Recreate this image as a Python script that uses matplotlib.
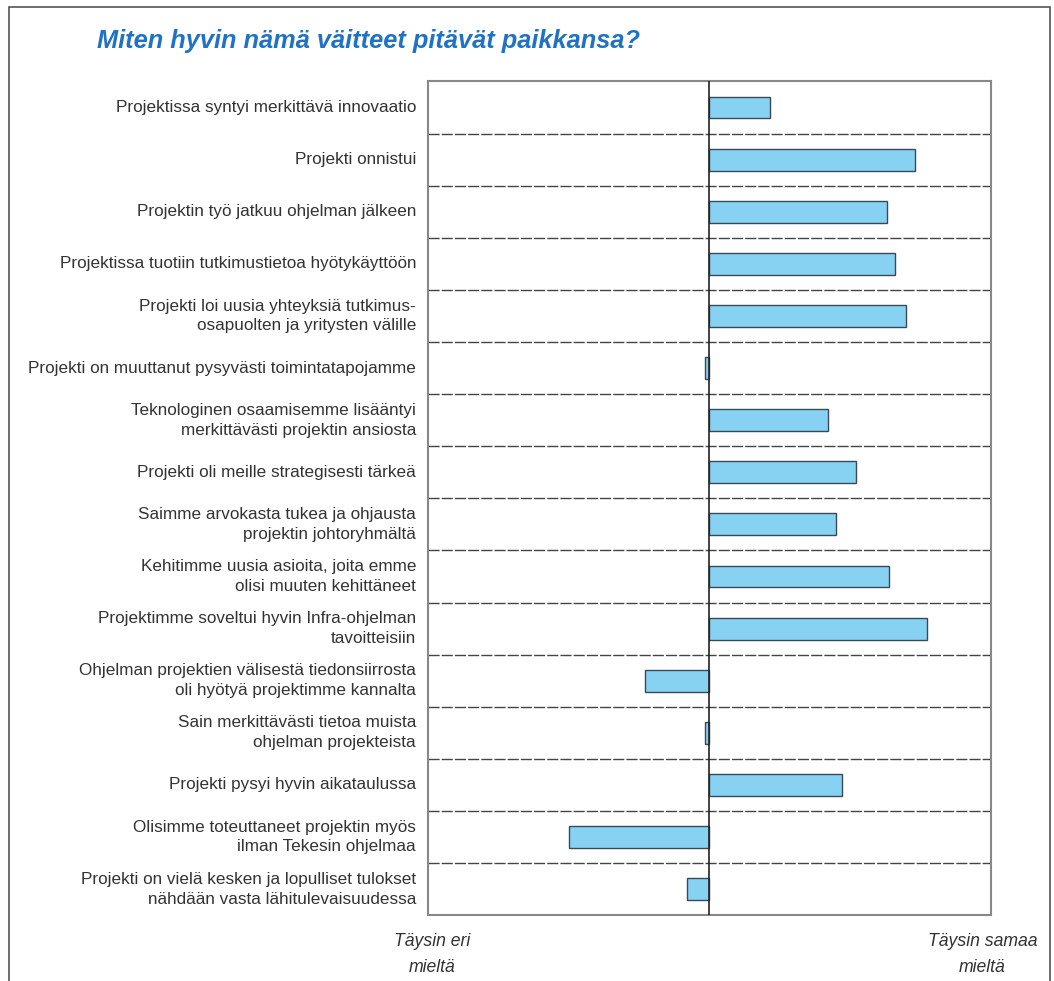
import matplotlib.pyplot as plt
import matplotlib.patches as mpatches
import numpy as np

# vastausten keskiarvot asteikolla -2 (täysin eri mieltä) ... 2 (täysin samaa mieltä)
statements = [
    "Projektissa syntyi merkittävä innovaatio",
    "Projekti onnistui",
    "Projektin työ jatkuu ohjelman jälkeen",
    "Projektissa tuotiin tutkimustietoa hyötykäyttöön",
    "Projekti loi uusia yhteyksiä tutkimus-\nosapuolten ja yritysten välille",
    "Projekti on muuttanut pysyvästi toimintatapojamme",
    "Teknologinen osaamisemme lisääntyi\nmerkittävästi projektin ansiosta",
    "Projekti oli meille strategisesti tärkeä",
    "Saimme arvokasta tukea ja ohjausta\nprojektin johtoryhmältä",
    "Kehitimme uusia asioita, joita emme\nolisi muuten kehittäneet",
    "Projektimme soveltui hyvin Infra-ohjelman\ntavoitteisiin",
    "Ohjelman projektien välisestä tiedonsiirrosta\noli hyötyä projektimme kannalta",
    "Sain merkittävästi tietoa muista\nohjelman projekteista",
    "Projekti pysyi hyvin aikataulussa",
    "Olisimme toteuttaneet projektin myös\nilman Tekesin ohjelmaa",
    "Projekti on vielä kesken ja lopulliset tulokset\nnähdään vasta lähitulevaisuudessa",
]
scores = [0.43, 1.46, 1.26, 1.32, 1.40, -0.03, 0.84, 1.04, 0.90, 1.28,
          1.55, -0.46, -0.03, 0.94, -1.00, -0.16]
scale_ends = ["Täysin eri\nmieltä", "Täysin samaa\nmieltä"]

fonts = ["Liberation Sans", "DejaVu Sans"]

fig = plt.figure(figsize=(10.54, 9.81), dpi=100)

# ulkokehys
fig.patches.append(mpatches.Rectangle((0.009, -0.05), 0.987, 1.043, transform=fig.transFigure,
                                      fill=False, edgecolor="#555555", linewidth=1.2))

ax = fig.add_axes([0.406, 0.067, 0.534, 0.850])
n = len(statements)
y = np.arange(n)
ax.barh(y, scores, height=0.42, color="#87d1f3", edgecolor="#3a4a55", linewidth=1.0, zorder=3)
ax.axvline(0, color="#222222", linewidth=1.2, zorder=4)
for b in np.arange(0.5, n - 1, 1):
    ax.axhline(b, color="#444444", linewidth=1.0, linestyle=(0, (8, 1.5)), zorder=2)

ax.set_xlim(-2, 2)
ax.set_ylim(n - 0.5, -0.5)
ax.set_xticks([])
ax.set_yticks([])
for s in ax.spines.values():
    s.set_color("#888888")
    s.set_linewidth(1.5)

for i, txt in enumerate(statements):
    ax.text(-0.021, i, txt, transform=ax.get_yaxis_transform(), ha="right", va="center",
            fontsize=12.3, color="#333333", family=fonts, linespacing=1.4)

fig.text(0.41, 0.005, scale_ends[0], ha="center", va="bottom", fontsize=12.7, style="italic",
         color="#333333", family=fonts, linespacing=1.7)
fig.text(0.932, 0.005, scale_ends[1], ha="center", va="bottom", fontsize=12.7, style="italic",
         color="#333333", family=fonts, linespacing=1.7)

fig.text(0.092, 0.958, "Miten hyvin nämä väitteet pitävät paikkansa?", ha="left", va="center",
         fontsize=18.3, style="italic", weight="bold", color="#1f72c4", family=fonts)

fig.savefig("out.png", dpi=100)
